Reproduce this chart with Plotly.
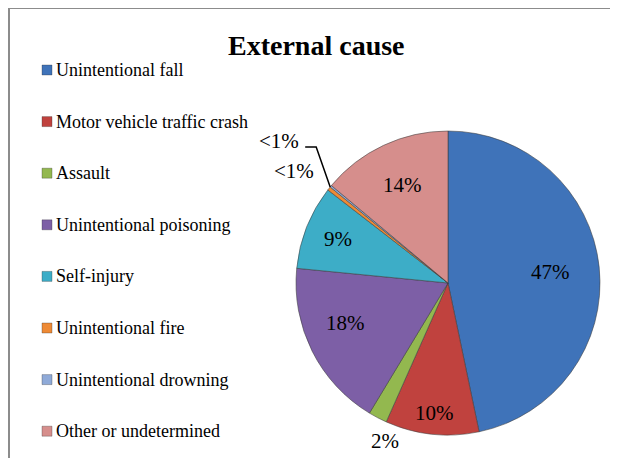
import numpy as np
import plotly.graph_objects as go

# ---- data ----
causes = ["Unintentional fall", "Motor vehicle traffic crash", "Assault",
          "Unintentional poisoning", "Self-injury", "Unintentional fire",
          "Unintentional drowning", "Other or undetermined"]
shares = [47, 10, 2, 18, 9, 0.4, 0.2, 14]
share_labels = ["47%", "10%", "2%", "18%", "9%", "<1%", "<1%", "14%"]
colors = ["#3F73B9", "#C0423E", "#93B84F", "#7D5FA6",
          "#3DADC7", "#EE8A35", "#8FAAD8", "#D68E8C"]
title_text = "External cause"

W, H = 618, 458
OFF = 8  # page body margin of the browser
FONT = "Liberation Serif, Times New Roman, serif"


def px(x):
    return (x - OFF) / W


def py(y):
    return 1 - (y - OFF) / H


# pie geometry (screen pixels)
cx, cy, r = 448, 283, 152

fig = go.Figure(go.Pie(
    labels=causes,
    values=shares,
    textinfo="none",
    sort=False,
    direction="clockwise",
    rotation=0,
    marker=dict(colors=colors, line=dict(color="rgba(60,60,60,0.55)", width=1)),
    domain=dict(x=[px(cx - r), px(cx + r)], y=[py(cy + r), py(cy - r)]),
    hoverinfo="label+percent",
    showlegend=False,
))

shapes = []
annotations = []

# border (top and left edges visible)
shapes.append(dict(type="line", xref="paper", yref="paper",
                   x0=px(9), y0=py(8), x1=1, y1=py(8),
                   line=dict(color="#8c8c8c", width=2)))
shapes.append(dict(type="line", xref="paper", yref="paper",
                   x0=px(9), y0=py(8), x1=px(9), y1=0,
                   line=dict(color="#8c8c8c", width=2)))

# manual legend
for i, (lab, col) in enumerate(zip(causes, colors)):
    yc = 70 + i * 51.6
    shapes.append(dict(type="rect", xref="paper", yref="paper",
                       x0=px(42), x1=px(52), y0=py(yc + 5), y1=py(yc - 5),
                       fillcolor=col, line=dict(color="rgba(40,40,40,0.5)", width=0.6)))
    annotations.append(dict(text=lab, xref="paper", yref="paper",
                            x=px(54), y=py(yc), xanchor="left", yanchor="middle",
                            showarrow=False,
                            font=dict(family=FONT, size=18, color="black")))

# slice labels placed along each slice's mid-angle
vals = np.array(shares, dtype=float)
cum = np.cumsum(vals) / vals.sum()
mid = (cum - vals / vals.sum() / 2) * 2 * np.pi
label_radius = [0.68, 0.86, 1.12, 0.72, 0.78, None, None, 0.71]
label_nudge_deg = [0, 0, -6, 5.5, 0, 0, 0, 0]
for i, rf in enumerate(label_radius):
    if rf is None:
        continue
    a = mid[i] + np.deg2rad(label_nudge_deg[i])
    lx = cx + rf * r * np.sin(a)
    ly = cy - rf * r * np.cos(a)
    annotations.append(dict(text=share_labels[i], xref="paper", yref="paper",
                            x=px(lx), y=py(ly), xanchor="center", yanchor="middle",
                            showarrow=False,
                            font=dict(family=FONT, size=21, color="black")))

# leader for the tiny slices, anchored at the fire/drowning boundary
theta = cum[5] * 2 * np.pi
ex = cx + r * np.sin(theta)
ey = cy - r * np.cos(theta)
elx, ely = ex - 14, ey - 40
endx = elx - 11
path = "M {} {} L {} {} L {} {}".format(px(ex), py(ey), px(elx), py(ely), px(endx), py(ely))
shapes.append(dict(type="path", xref="paper", yref="paper", path=path,
                   line=dict(color="black", width=1.5)))

annotations.append(dict(text=share_labels[6], xref="paper", yref="paper",
                        x=px(endx - 4), y=py(ely - 6), xanchor="right", yanchor="middle",
                        showarrow=False, font=dict(family=FONT, size=21, color="black")))
annotations.append(dict(text=share_labels[5], xref="paper", yref="paper",
                        x=px(ex - 14), y=py(ey - 16), xanchor="right", yanchor="middle",
                        showarrow=False, font=dict(family=FONT, size=21, color="black")))

# title
annotations.append(dict(text="<b>" + title_text + "</b>", xref="paper", yref="paper",
                        x=px(316), y=py(46), xanchor="center", yanchor="middle",
                        showarrow=False, font=dict(family=FONT, size=28, color="black")))

fig.update_layout(
    width=W, height=H,
    margin=dict(l=0, r=0, t=0, b=0),
    paper_bgcolor="white",
    plot_bgcolor="white",
    shapes=shapes,
    annotations=annotations,
    showlegend=False,
)

fig.write_html("out.html")
